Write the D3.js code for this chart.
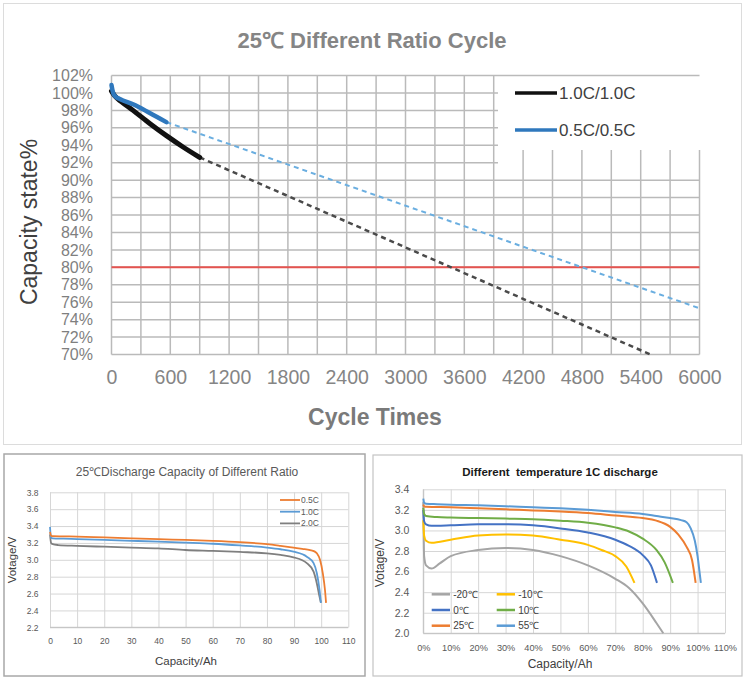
<!DOCTYPE html>
<html><head><meta charset="utf-8">
<script src="https://cdn.jsdelivr.net/npm/d3@7"></script>
<style>
body{margin:0;background:#fff;}
svg{display:block;font-family:"Liberation Sans",Arial,Helvetica,sans-serif;}
</style>
</head><body>
<svg id="c" width="746" height="679"></svg>
<script>
// ---------- Top chart data ----------
const cycleTicks = [0,600,1200,1800,2400,3000,3600,4200,4800,5400,6000];
const cycleGrid = [0,300,600,900,1200,1500,1800,2100,2400,2700,3000,3300,3600,3900,4200,4500,4800,5100,5400,5700,6000];
const capacityTicks = [70,72,74,76,78,80,82,84,86,88,90,92,94,96,98,100,102];
const blackCycles = [0,30,100,220,390,560,730,900];
const blackCapacity = [100.2,99.7,99.0,98.0,96.5,95.1,93.8,92.6];
const blackTrendCycles = [900,5500];
const blackTrendCapacity = [92.6,70];
const blueCycles = [0,10,20,40,85,220,390,560];
const blueCapacity = [100.9,100.3,99.9,99.6,99.3,98.7,97.7,96.65];
const blueTrendCycles = [560,6000];
const blueTrendCapacity = [96.65,75.3];
const limitCapacity = 80;
const topLegend = ["1.0C/1.0C","0.5C/0.5C"];

// ---------- Bottom-left chart data ----------
const ratioXTicks = [0,10,20,30,40,50,60,70,80,90,100,110];
const ratioYTicks = [2.2,2.4,2.6,2.8,3.0,3.2,3.4,3.6,3.8];
const ratioNames = ["0.5C","1.0C","2.0C"];
const cap05 = [0,0.4,1,5,10,20,30,40,50,60,70,80,85,89.8,93,95.9,97.5,98.4,99.6,100.6,101.4,101.8];
const volt05 = [3.33,3.285,3.28,3.278,3.275,3.265,3.255,3.245,3.235,3.225,3.21,3.185,3.165,3.144,3.13,3.116,3.1,3.077,2.998,2.84,2.642,2.49];
const cap10 = [0,0.4,1,5,10,20,30,40,50,60,70,80,85,89.8,94.7,97.2,98.4,99.4,99.9];
const volt10 = [3.39,3.26,3.255,3.25,3.245,3.235,3.225,3.215,3.203,3.19,3.17,3.145,3.125,3.096,3.037,2.96,2.84,2.64,2.49];
const cap20 = [0,0.4,1,3,10,20,30,40,50,60,70,80,85,89.8,94.7,97.2,98.4,99.4,99.9];
const volt20 = [3.3,3.2,3.185,3.175,3.165,3.155,3.145,3.135,3.116,3.105,3.093,3.077,3.058,3.03,2.96,2.86,2.72,2.56,2.49];

// ---------- Bottom-right chart data ----------
const tempXTicks = [0,10,20,30,40,50,60,70,80,90,100,110];
const tempYTicks = [2.0,2.2,2.4,2.6,2.8,3.0,3.2,3.4];
const tempNames = ["-20℃","-10℃","0℃","10℃","25℃","55℃"];
const capM20 = [0,0.3,1,3,6,10,20,30,40,50,60,70,75,80,85,87.5];
const voltM20 = [3.28,2.75,2.66,2.63,2.68,2.75,2.81,2.83,2.81,2.75,2.66,2.53,2.44,2.29,2.1,2.0];
const capM10 = [0,0.3,1,3,10,20,30,40,50,60,65,70,74,77];
const voltM10 = [3.1,2.95,2.9,2.88,2.91,2.95,2.96,2.95,2.91,2.86,2.81,2.75,2.65,2.49];
const cap0 = [0,0.3,1,3,5,10,20,30,40,50,60,70,75,80,83,85.2];
const volt0 = [3.2,3.09,3.06,3.045,3.045,3.05,3.06,3.06,3.05,3.02,2.98,2.91,2.85,2.76,2.66,2.49];
const cap10C = [0,0.3,1,5,10,20,30,40,50,60,70,75,80,85,88,91];
const volt10C = [3.22,3.16,3.14,3.13,3.125,3.12,3.115,3.11,3.095,3.075,3.03,2.99,2.92,2.81,2.69,2.49];
const cap25 = [0,0.3,1,10,20,30,40,50,60,70,80,85,90,93,96,98,99.3];
const volt25 = [3.25,3.235,3.23,3.225,3.215,3.205,3.195,3.185,3.17,3.145,3.12,3.095,3.035,2.96,2.84,2.71,2.49];
const cap55 = [0,0.3,1,5,10,20,30,40,50,60,70,80,85,90,94,96,97.5,99,100,100.7,101.2];
const volt55 = [3.31,3.27,3.26,3.255,3.25,3.245,3.235,3.225,3.215,3.2,3.18,3.16,3.14,3.12,3.1,3.08,3.02,2.9,2.75,2.6,2.49];

const svg = d3.select("#c");
const pts = (xs, ys) => xs.map((x,i)=>[x, ys[i]]);

// ================= TOP CHART =================
svg.append("rect").attr("x",3.5).attr("y",3.5).attr("width",738).attr("height",441)
  .attr("fill","#fff").attr("stroke","#dcdcdc");

const xT = d3.scaleLinear().domain([0,6000]).range([111.5,699.5]);
const yT = d3.scaleLinear().domain([70,102]).range([354.5,75.5]);
const topG = svg.append("g");

const gridV = topG.append("g");
cycleGrid.forEach(c=>{
  gridV.append("line")
    .attr("x1",xT(c)).attr("x2",xT(c))
    .attr("y1",yT(70)).attr("y2",(c >= 4050) ? 150 : yT(102))
    .attr("stroke","#bababa").attr("stroke-width",1.5);
});
capacityTicks.forEach(v=>{
  gridV.append("line")
    .attr("x1",xT(0)).attr("x2",(v >= 90.5 && v <= 101) ? 498 : xT(6000))
    .attr("y1",yT(v)).attr("y2",yT(v))
    .attr("stroke","#bababa").attr("stroke-width",1.5);
});

topG.append("line").attr("x1",xT(0)).attr("x2",xT(6000)).attr("y1",yT(limitCapacity)).attr("y2",yT(limitCapacity))
  .attr("stroke","#e5534f").attr("stroke-width",2);

const lineT = d3.line().x(d=>xT(d[0])).y(d=>yT(d[1]));
const lineTC = d3.line().x(d=>xT(d[0])).y(d=>yT(d[1])).curve(d3.curveMonotoneX);
topG.append("path").attr("d",lineT(pts(blackTrendCycles,blackTrendCapacity)))
  .attr("fill","none").attr("stroke","#4a4a4a").attr("stroke-width",2.5).attr("stroke-dasharray","5,4");
topG.append("path").attr("d",lineT(pts(blueTrendCycles,blueTrendCapacity)))
  .attr("fill","none").attr("stroke","#6aaee0").attr("stroke-width",2).attr("stroke-dasharray","5,4");
topG.append("path").attr("d",lineTC(pts(blackCycles,blackCapacity)))
  .attr("fill","none").attr("stroke","#111").attr("stroke-width",5).attr("stroke-linecap","round");
topG.append("path").attr("d",lineTC(pts(blueCycles,blueCapacity)))
  .attr("fill","none").attr("stroke","#2f78bd").attr("stroke-width",4.5).attr("stroke-linecap","round");

topG.append("g").attr("transform","translate(111.5,0)")
  .call(d3.axisLeft(yT).tickValues(capacityTicks).tickSize(0).tickPadding(18.5).tickFormat(d=>d+"%"))
  .call(g=>g.select(".domain").remove())
  .call(g=>g.selectAll("text").attr("font-size",16).attr("fill","#7f7f7f").attr("font-family","Liberation Sans, Arial, sans-serif"));
topG.append("g").attr("transform","translate(0,354)")
  .call(d3.axisBottom(xT).tickValues(cycleTicks).tickSize(0).tickPadding(16).tickFormat(d=>d))
  .call(g=>g.select(".domain").remove())
  .call(g=>g.selectAll("text").attr("font-size",19.5).attr("fill","#858585").attr("font-family","Liberation Sans, Arial, sans-serif"));

topG.append("text").attr("x",372).attr("y",48).attr("text-anchor","middle")
  .attr("font-size",22).attr("font-weight","bold").attr("fill","#858585").text("25℃ Different Ratio Cycle");
topG.append("text").attr("x",375).attr("y",425).attr("text-anchor","middle")
  .attr("font-size",23).attr("font-weight","bold").attr("fill","#7a7a7a").text("Cycle Times");
topG.append("text").attr("transform","translate(37,222) rotate(-90)").attr("text-anchor","middle")
  .attr("font-size",23).attr("fill","#404040").text("Capacity state%");

const topLegColors = ["#111","#2f78bd"];
topLegend.forEach((t,i)=>{
  const y = 93 + i*37;
  topG.append("line").attr("x1",515).attr("x2",557).attr("y1",y).attr("y2",y)
    .attr("stroke",topLegColors[i]).attr("stroke-width",3.5);
  topG.append("text").attr("x",559).attr("y",y).attr("dy","0.35em")
    .attr("font-size",17).attr("fill","#404040").text(t);
});

// ================= BOTTOM-LEFT =================
svg.append("rect").attr("x",4).attr("y",454).attr("width",361).attr("height",222)
  .attr("fill","#fff").attr("stroke","#a8a8a8").attr("stroke-width",1.5);
const xL = d3.scaleLinear().domain([0,110]).range([50,348.3]);
const yL = d3.scaleLinear().domain([2.2,3.8]).range([627.3,492.3]);
const bl = svg.append("g");
bl.append("g").attr("transform","translate(0,627.3)")
  .call(d3.axisBottom(xL).tickValues(ratioXTicks).tickSize(-135).tickFormat(""))
  .call(g=>g.select(".domain").remove())
  .call(g=>g.selectAll("line").attr("stroke","#d6d6d6"));
bl.append("g").attr("transform","translate(50,0)")
  .call(d3.axisLeft(yL).tickValues(ratioYTicks).tickSize(-298.3).tickFormat(""))
  .call(g=>g.select(".domain").remove())
  .call(g=>g.selectAll("line").attr("stroke","#d6d6d6"));
bl.append("line").attr("x1",50).attr("x2",348.3).attr("y1",627.3).attr("y2",627.3).attr("stroke","#c0c0c0");

const lineL = d3.line().x(d=>xL(d[0])).y(d=>yL(d[1])).curve(d3.curveMonotoneX);
const ratioSeries = [[cap20,volt20,"#7f7f7f"],[cap10,volt10,"#5b9bd5"],[cap05,volt05,"#ed7d31"]];
ratioSeries.forEach(s=>{
  bl.append("path").attr("d",lineL(pts(s[0],s[1]))).attr("fill","none").attr("stroke",s[2]).attr("stroke-width",1.8);
});
bl.append("g").attr("transform","translate(50,0)")
  .call(d3.axisLeft(yL).tickValues(ratioYTicks).tickSize(0).tickPadding(11.5).tickFormat(d3.format(".1f")))
  .call(g=>g.select(".domain").remove())
  .call(g=>g.selectAll("text").attr("font-size",8.5).attr("fill","#595959").attr("font-family","Liberation Sans, Arial, sans-serif"));
bl.append("g").attr("transform","translate(0,627.3)")
  .call(d3.axisBottom(xL).tickValues(ratioXTicks).tickSize(0).tickPadding(10.4).tickFormat(d=>d))
  .call(g=>g.select(".domain").remove())
  .call(g=>g.selectAll("text").attr("font-size",8.5).attr("fill","#595959").attr("font-family","Liberation Sans, Arial, sans-serif"));
bl.append("text").attr("x",187).attr("y",476).attr("text-anchor","middle").attr("font-size",12).attr("fill","#595959")
  .text("25℃Discharge Capacity of Different Ratio");
bl.append("text").attr("x",186).attr("y",665).attr("text-anchor","middle").attr("font-size",11.5).attr("fill","#404040")
  .text("Capacity/Ah");
bl.append("text").attr("transform","translate(16,560) rotate(-90)").attr("text-anchor","middle").attr("font-size",11.5).attr("fill","#404040")
  .text("Votage/V");
const ratioLegColors = ["#ed7d31","#5b9bd5","#7f7f7f"];
ratioNames.forEach((t,i)=>{
  const y = 500 + i*11.7;
  bl.append("line").attr("x1",280).attr("x2",300).attr("y1",y).attr("y2",y).attr("stroke",ratioLegColors[i]).attr("stroke-width",1.8);
  bl.append("text").attr("x",301).attr("y",y).attr("dy","0.35em").attr("font-size",8.5).attr("fill","#595959").text(t);
});

// ================= BOTTOM-RIGHT =================
svg.append("rect").attr("x",373).attr("y",455).attr("width",369).attr("height",221)
  .attr("fill","#fff").attr("stroke","#c4c4c4").attr("stroke-width",1.2);
const xR = d3.scaleLinear().domain([0,110]).range([423.3,725]);
const yR = d3.scaleLinear().domain([2.0,3.4]).range([633.3,489.3]);
const br = svg.append("g");
br.append("g").attr("transform","translate(0,633.3)")
  .call(d3.axisBottom(xR).tickValues(tempXTicks).tickSize(-144).tickFormat(""))
  .call(g=>g.select(".domain").remove())
  .call(g=>g.selectAll("line").attr("stroke","#d6d6d6"));
br.append("g").attr("transform","translate(423.3,0)")
  .call(d3.axisLeft(yR).tickValues(tempYTicks).tickSize(-301.7).tickFormat(""))
  .call(g=>g.select(".domain").remove())
  .call(g=>g.selectAll("line").attr("stroke","#d6d6d6"));
br.append("line").attr("x1",423.3).attr("x2",725).attr("y1",633.3).attr("y2",633.3).attr("stroke","#c0c0c0");
br.append("line").attr("x1",423.3).attr("x2",423.3).attr("y1",489.3).attr("y2",633.3).attr("stroke","#c0c0c0");

const lineR = d3.line().x(d=>xR(d[0])).y(d=>yR(d[1])).curve(d3.curveMonotoneX);
const tempColors = ["#a5a5a5","#ffc000","#4472c4","#70ad47","#ed7d31","#5b9bd5"];
const tempSeries = [[capM20,voltM20],[capM10,voltM10],[cap0,volt0],[cap10C,volt10C],[cap25,volt25],[cap55,volt55]];
tempSeries.forEach((s,i)=>{
  br.append("path").attr("d",lineR(pts(s[0],s[1]))).attr("fill","none").attr("stroke",tempColors[i]).attr("stroke-width",2);
});
br.append("g").attr("transform","translate(423.3,0)")
  .call(d3.axisLeft(yR).tickValues(tempYTicks).tickSize(0).tickPadding(14).tickFormat(d3.format(".1f")))
  .call(g=>g.select(".domain").remove())
  .call(g=>g.selectAll("text").attr("font-size",10.5).attr("fill","#595959").attr("font-family","Liberation Sans, Arial, sans-serif"));
br.append("g").attr("transform","translate(0,633.3)")
  .call(d3.axisBottom(xR).tickValues(tempXTicks).tickSize(0).tickPadding(11.5).tickFormat(d=>d+"%"))
  .call(g=>g.select(".domain").remove())
  .call(g=>g.selectAll("text").attr("font-size",9.2).attr("fill","#595959").attr("font-family","Liberation Sans, Arial, sans-serif"));
br.append("text").attr("x",560).attr("y",476).attr("text-anchor","middle").attr("font-size",11.5).attr("font-weight","bold")
  .attr("fill","#1a1a1a").style("white-space","pre").text("Different  temperature 1C discharge");
br.append("text").attr("x",560).attr("y",667.5).attr("text-anchor","middle").attr("font-size",12).attr("fill","#404040")
  .text("Capacity/Ah");
br.append("text").attr("transform","translate(384,563) rotate(-90)").attr("text-anchor","middle").attr("font-size",12).attr("fill","#404040")
  .text("Votage/V");
tempNames.forEach((t,i)=>{
  const col = i%2, row = Math.floor(i/2);
  const x0 = col===0 ? 431.7 : 496.7;
  const y = 594.3 + row*15.7;
  br.append("line").attr("x1",x0).attr("x2",x0+18.3).attr("y1",y).attr("y2",y).attr("stroke",tempColors[i]).attr("stroke-width",2.5);
  br.append("text").attr("x",x0+21.5).attr("y",y).attr("dy","0.35em").attr("font-size",10).attr("fill","#404040").text(t);
});
</script>
</body></html>
